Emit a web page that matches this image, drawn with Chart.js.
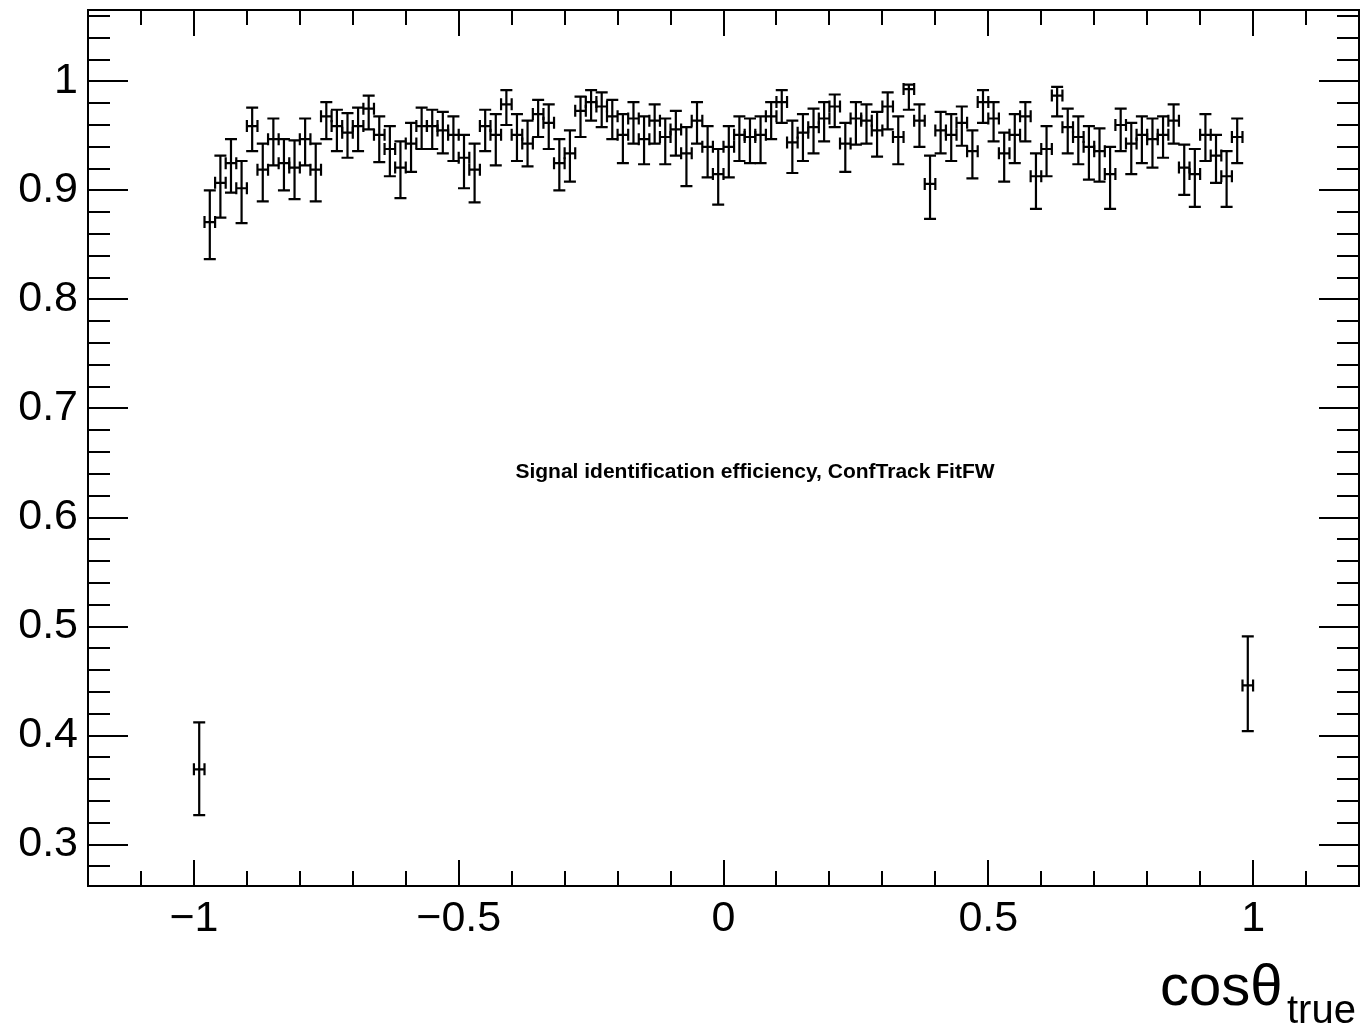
<!DOCTYPE html>
<html>
<head>
<meta charset="utf-8">
<title>Signal identification efficiency</title>
<script src="https://cdn.jsdelivr.net/npm/chart.js@4.4.0/dist/chart.umd.min.js"></script>
<style>
  html, body { margin: 0; padding: 0; background: #fff; }
  canvas { display: block; }
</style>
</head>
<body>
<canvas id="effChart" width="1367" height="1031"></canvas>
<script>
// bin centres of cos(theta_true), 100 bins of width 0.02
const binCenters = [
  -0.99, -0.97, -0.95, -0.93, -0.91, -0.89, -0.87, -0.85, -0.83, -0.81,
  -0.79, -0.77, -0.75, -0.73, -0.71, -0.69, -0.67, -0.65, -0.63, -0.61,
  -0.59, -0.57, -0.55, -0.53, -0.51, -0.49, -0.47, -0.45, -0.43, -0.41,
  -0.39, -0.37, -0.35, -0.33, -0.31, -0.29, -0.27, -0.25, -0.23, -0.21,
  -0.19, -0.17, -0.15, -0.13, -0.11, -0.09, -0.07, -0.05, -0.03, -0.01,
  0.01, 0.03, 0.05, 0.07, 0.09, 0.11, 0.13, 0.15, 0.17, 0.19,
  0.21, 0.23, 0.25, 0.27, 0.29, 0.31, 0.33, 0.35, 0.37, 0.39,
  0.41, 0.43, 0.45, 0.47, 0.49, 0.51, 0.53, 0.55, 0.57, 0.59,
  0.61, 0.63, 0.65, 0.67, 0.69, 0.71, 0.73, 0.75, 0.77, 0.79,
  0.81, 0.83, 0.85, 0.87, 0.89, 0.91, 0.93, 0.95, 0.97, 0.99
];
const binHalfWidth = 0.01;

const efficiency = [
  0.369, 0.871, 0.907, 0.925, 0.902, 0.959, 0.919, 0.947, 0.925, 0.921,
  0.947, 0.919, 0.968, 0.959, 0.953, 0.959, 0.975, 0.951, 0.938, 0.921,
  0.943, 0.959, 0.959, 0.955, 0.951, 0.930, 0.919, 0.959, 0.951, 0.979,
  0.951, 0.943, 0.970, 0.962, 0.925, 0.934, 0.973, 0.981, 0.977, 0.968,
  0.951, 0.966, 0.947, 0.964, 0.949, 0.956, 0.934, 0.964, 0.940, 0.915,
  0.940, 0.951, 0.949, 0.951, 0.968, 0.981, 0.944, 0.953, 0.958, 0.966,
  0.977, 0.943, 0.966, 0.964, 0.955, 0.977, 0.949, 0.993, 0.964, 0.906,
  0.955, 0.951, 0.962, 0.936, 0.981, 0.966, 0.934, 0.951, 0.968, 0.913,
  0.938, 0.987, 0.958, 0.949, 0.940, 0.936, 0.915, 0.960, 0.943, 0.951,
  0.947, 0.951, 0.964, 0.921, 0.915, 0.951, 0.932, 0.913, 0.949, 0.446
];

const errUp = [
  0.043, 0.029, 0.025, 0.022, 0.025, 0.017, 0.024, 0.019, 0.022, 0.025,
  0.019, 0.024, 0.013, 0.015, 0.018, 0.017, 0.012, 0.017, 0.021, 0.024,
  0.019, 0.017, 0.015, 0.017, 0.017, 0.021, 0.024, 0.015, 0.019, 0.013,
  0.019, 0.021, 0.013, 0.017, 0.022, 0.021, 0.013, 0.011, 0.013, 0.015,
  0.019, 0.015, 0.021, 0.015, 0.017, 0.017, 0.024, 0.017, 0.019, 0.023,
  0.019, 0.017, 0.017, 0.017, 0.013, 0.011, 0.020, 0.017, 0.017, 0.015,
  0.011, 0.019, 0.015, 0.015, 0.017, 0.013, 0.019, 0.004, 0.015, 0.026,
  0.017, 0.019, 0.015, 0.019, 0.011, 0.015, 0.019, 0.019, 0.013, 0.021,
  0.021, 0.008, 0.017, 0.019, 0.019, 0.021, 0.025, 0.015, 0.019, 0.017,
  0.019, 0.017, 0.015, 0.021, 0.023, 0.019, 0.019, 0.023, 0.017, 0.045
];

const errDown = [
  0.042, 0.034, 0.032, 0.027, 0.032, 0.023, 0.029, 0.024, 0.025, 0.029,
  0.024, 0.029, 0.021, 0.023, 0.023, 0.023, 0.019, 0.025, 0.025, 0.028,
  0.026, 0.021, 0.021, 0.021, 0.024, 0.028, 0.030, 0.023, 0.028, 0.019,
  0.024, 0.021, 0.021, 0.024, 0.025, 0.026, 0.024, 0.017, 0.019, 0.021,
  0.026, 0.023, 0.023, 0.021, 0.025, 0.024, 0.030, 0.021, 0.028, 0.028,
  0.028, 0.024, 0.024, 0.026, 0.021, 0.019, 0.028, 0.026, 0.024, 0.021,
  0.019, 0.026, 0.024, 0.021, 0.024, 0.021, 0.025, 0.019, 0.024, 0.032,
  0.021, 0.024, 0.021, 0.025, 0.019, 0.021, 0.026, 0.026, 0.023, 0.030,
  0.025, 0.019, 0.024, 0.025, 0.030, 0.028, 0.032, 0.024, 0.028, 0.026,
  0.026, 0.021, 0.021, 0.025, 0.030, 0.024, 0.025, 0.028, 0.024, 0.042
];

const xMajorTicks = [-1, -0.5, 0, 0.5, 1];
const xTickLabels = ['\u22121', '\u22120.5', '0', '0.5', '1'];
const yMajorTicks = [0.3, 0.4, 0.5, 0.6, 0.7, 0.8, 0.9, 1];
const yTickLabels = ['0.3', '0.4', '0.5', '0.6', '0.7', '0.8', '0.9', '1'];

const xMin = -1.2, xMax = 1.2;
const yMin = 0.262, yMax = 1.0655;

const histTitle = 'Signal identification efficiency, ConfTrack FitFW';
const xTitle = 'cos\u03b8';
const xTitleSub = 'true';

const FONT = '"Liberation Sans", Arial, Helvetica, sans-serif';

// minor tick positions (0.1 on x, 0.02 on y)
const xMinorTicks = [];
for (let k = -12; k <= 12; k++) xMinorTicks.push(k / 10);
const yMinorTicks = [];
for (let k = 14; k <= 53; k++) yMinorTicks.push(k / 50);

// error bars drawn like ROOT's E1 option
const errorBars = {
  id: 'errorBars',
  afterDatasetsDraw(chart) {
    const ctx = chart.ctx;
    const x = chart.scales.x, y = chart.scales.y;
    ctx.save();
    ctx.strokeStyle = '#000';
    ctx.lineWidth = 2.2;
    ctx.lineCap = 'butt';
    binCenters.forEach((c, i) => {
      const px = x.getPixelForValue(c);
      const xl = x.getPixelForValue(c - binHalfWidth);
      const xr = x.getPixelForValue(c + binHalfWidth);
      const py = y.getPixelForValue(efficiency[i]);
      const yt = y.getPixelForValue(efficiency[i] + errUp[i]);
      const yb = y.getPixelForValue(efficiency[i] - errDown[i]);
      ctx.beginPath();
      // vertical bar + caps
      ctx.moveTo(px, yt); ctx.lineTo(px, yb);
      ctx.moveTo(px - 6, yt); ctx.lineTo(px + 6, yt);
      ctx.moveTo(px - 6, yb); ctx.lineTo(px + 6, yb);
      // horizontal bar + caps
      ctx.moveTo(xl, py); ctx.lineTo(xr, py);
      ctx.moveTo(xl, py - 6); ctx.lineTo(xl, py + 6);
      ctx.moveTo(xr, py - 6); ctx.lineTo(xr, py + 6);
      ctx.stroke();
    });
    ctx.restore();
  }
};

// frame, inward ticks on all four sides, texts
const rootFrame = {
  id: 'rootFrame',
  afterDraw(chart) {
    const ctx = chart.ctx;
    const a = chart.chartArea;
    const x = chart.scales.x, y = chart.scales.y;
    ctx.save();
    ctx.strokeStyle = '#000';
    ctx.lineWidth = 2;
    ctx.strokeRect(a.left, a.top, a.right - a.left, a.bottom - a.top);

    ctx.beginPath();
    xMinorTicks.forEach(v => {
      const px = Math.round(x.getPixelForValue(v));
      const isMajor = Math.abs(v * 2 - Math.round(v * 2)) < 1e-6;
      const len = isMajor ? 26 : 15;
      ctx.moveTo(px, a.bottom); ctx.lineTo(px, a.bottom - len);
      ctx.moveTo(px, a.top); ctx.lineTo(px, a.top + len);
    });
    yMinorTicks.forEach(v => {
      const py = Math.round(y.getPixelForValue(v));
      const isMajor = Math.abs(v * 10 - Math.round(v * 10)) < 1e-6;
      const len = isMajor ? 40 : 22;
      ctx.moveTo(a.left, py); ctx.lineTo(a.left + len, py);
      ctx.moveTo(a.right, py); ctx.lineTo(a.right - len, py);
    });
    ctx.stroke();

    // title text inside the frame
    ctx.fillStyle = '#000';
    ctx.font = 'bold 21px ' + FONT;
    ctx.textAlign = 'center';
    ctx.textBaseline = 'alphabetic';
    ctx.fillText(histTitle, 755, 478);

    // x axis title with subscript
    ctx.textAlign = 'left';
    ctx.font = '58px ' + FONT;
    ctx.fillText(xTitle, 1160, 1005);
    ctx.font = '40px ' + FONT;
    ctx.fillText(xTitleSub, 1287, 1023);
    ctx.restore();
  }
};

const points = binCenters.map((c, i) => ({ x: c, y: efficiency[i] }));

function noEdgePadding(s) {
  s.paddingTop = 0; s.paddingBottom = 0;
  s.paddingLeft = 0; s.paddingRight = 0;
}

new Chart(document.getElementById('effChart').getContext('2d'), {
  type: 'scatter',
  data: {
    datasets: [{
      label: 'efficiency',
      data: points,
      pointRadius: 0,
      pointHoverRadius: 0,
      showLine: false
    }]
  },
  options: {
    responsive: false,
    animation: false,
    devicePixelRatio: 1,
    layout: { padding: { left: 0, right: 8, top: 10, bottom: 0 } },
    plugins: {
      legend: { display: false },
      tooltip: { enabled: false },
      title: { display: false }
    },
    scales: {
      x: {
        type: 'linear',
        min: xMin,
        max: xMax,
        grid: { display: false, drawTicks: false },
        border: { display: false },
        afterBuildTicks: s => { s.ticks = xMajorTicks.map(v => ({ value: v })); },
        afterFit: s => { s.height = 145; noEdgePadding(s); },
        ticks: {
          autoSkip: false,
          maxRotation: 0,
          padding: 7,
          color: '#000',
          font: { family: FONT, size: 43 },
          callback: (v, i) => xTickLabels[i]
        }
      },
      y: {
        type: 'linear',
        min: yMin,
        max: yMax,
        grid: { display: false, drawTicks: false },
        border: { display: false },
        afterBuildTicks: s => { s.ticks = yMajorTicks.map(v => ({ value: v })); },
        afterFit: s => { s.width = 88; noEdgePadding(s); },
        ticks: {
          autoSkip: false,
          padding: 10,
          color: '#000',
          font: { family: FONT, size: 43 },
          callback: (v, i) => yTickLabels[i]
        }
      }
    }
  },
  plugins: [errorBars, rootFrame]
});
</script>
</body>
</html>
